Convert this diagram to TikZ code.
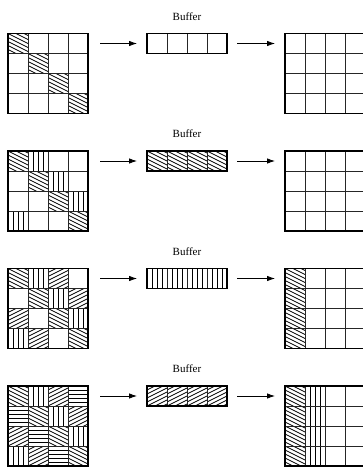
\documentclass[tikz,border=0pt]{standalone}
\usepackage{fontspec}
\setmainfont{Liberation Serif}
\usetikzlibrary{arrows.meta}
\tikzset{
  hatch/.style={line width=0.8pt,black},
  gridline/.style={line width=0.8pt,black!85},
  mat/.style={draw,line width=1.2pt,minimum width=80pt,minimum height=80pt,inner sep=0pt,outer sep=0pt},
  buf/.style={draw,line width=1.2pt,minimum width=80pt,minimum height=20pt,inner sep=0pt,outer sep=0pt},
  arr/.style={line width=0.8pt,-{Latex[length=8pt,width=5.5pt]}},
  lbl/.style={font=\fontsize{11}{13}\selectfont,inner sep=0pt}
}
\newcommand\patNW[2]{\begin{scope}\clip ({#1},{#2}) rectangle ++(20,20);
  \foreach \t in {-40,-36,...,24}{\draw[hatch] ({#1},{#2+(\t)}) -- ++(40,20);}\end{scope}}
\newcommand\patNE[2]{\begin{scope}\clip ({#1},{#2}) rectangle ++(20,20);
  \foreach \t in {0,4,...,64}{\draw[hatch] ({#1},{#2+(\t)}) -- ++(40,-20);}\end{scope}}
\newcommand\patV[2]{\foreach \i in {5,10,15}{\draw[hatch] ({#1+\i},{#2}) -- ++(0,20);}}
\newcommand\patH[2]{\foreach \i in {4,8,12,16}{\draw[hatch] ({#1},{#2+\i}) -- ++(20,0);}}
\newcommand\cellpat[3]{\ifcase#1\relax\patNW{#2}{#3}\or\patV{#2}{#3}\or\patNE{#2}{#3}\or\patH{#2}{#3}\fi}
\begin{document}
\begin{tikzpicture}[x=1pt,y=-1pt]
\useasboundingbox (0,0) rectangle (363,467);
\clip (0,0) rectangle (363,467);
\foreach \k in {0,1,2,3}{
  \pgfmathsetmacro\tp{33.5+117.5*\k}
  % patterns in source matrix
  \foreach \r in {0,...,3}{\foreach \c in {0,...,3}{
    \pgfmathtruncatemacro\d{mod(\c-\r+4,4)}
    \ifnum\d>\k\relax\else\cellpat{\d}{8+20*\c}{\tp+20*\r}\fi
  }}
  % buffer patterns
  \ifnum\k>0\relax
    \pgfmathtruncatemacro\bd{\k-1}
    \foreach \c in {0,...,3}{\cellpat{\bd}{147+20*\c}{\tp}}
  \fi
  % destination patterns
  \ifnum\k>1\relax
    \pgfmathtruncatemacro\kk{\k-2}
    \foreach \c in {0,...,\kk}{\foreach \r in {0,...,3}{\cellpat{\c}{285+20*\c}{\tp+20*\r}}}
  \fi
  % grids
  \foreach \i in {1,2,3}{
    \draw[gridline] ({8+20*\i},{\tp}) -- ++(0,80);
    \draw[gridline] (8,{\tp+20*\i}) -- ++(80,0);
    \draw[gridline] ({147+20*\i},{\tp}) -- ++(0,20);
    \draw[gridline] ({285+20*\i},{\tp}) -- ++(0,80);
    \draw[gridline] (285,{\tp+20*\i}) -- ++(80,0);
  }
  \node[mat] (L\k) at (48,{\tp+40}) {};
  \node[buf] (B\k) at (187,{\tp+10}) {};
  \node[mat] (R\k) at (325,{\tp+40}) {};
  \node[lbl] (T\k) at ([yshift=17pt]B\k.north) {Buffer};
  \draw[arr,shorten <=12pt,shorten >=10pt] (L\k.east |- B\k.west) -- (B\k.west);
  \draw[arr,shorten <=10pt,shorten >=10pt] (B\k.east) -- (R\k.west |- B\k.east);
}
\end{tikzpicture}
\end{document}
